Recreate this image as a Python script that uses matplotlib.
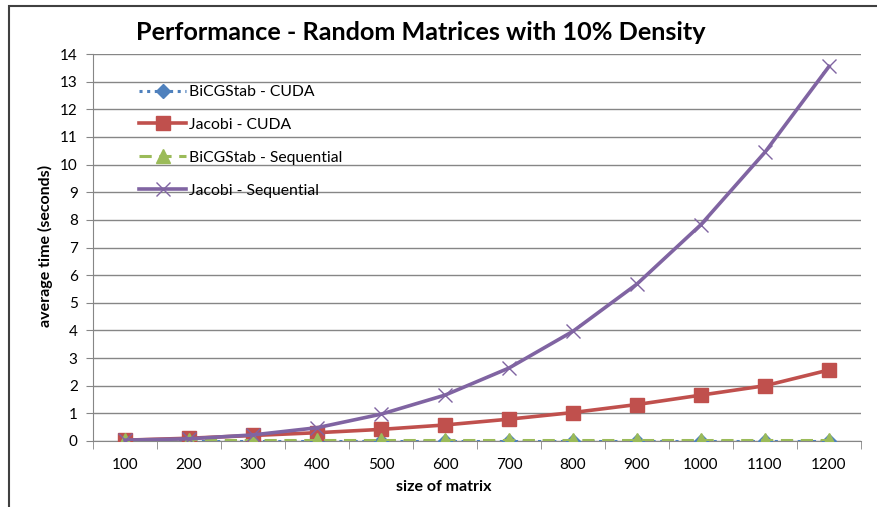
import matplotlib
matplotlib.use('Agg')
import matplotlib.pyplot as plt
from matplotlib.patches import Rectangle
import numpy as np

plt.rcParams['font.family'] = ['Lato', 'DejaVu Sans']

# data
sizes = ['100', '200', '300', '400', '500', '600', '700', '800', '900', '1000', '1100', '1200']
bicg_cuda = [0.01, 0.01, 0.01, 0.01, 0.01, 0.01, 0.01, 0.01, 0.01, 0.01, 0.01, 0.01]
jacobi_cuda = [0.03, 0.1, 0.2, 0.3, 0.42, 0.58, 0.79, 1.03, 1.32, 1.66, 2.0, 2.57]
bicg_seq = [0.02, 0.02, 0.02, 0.02, 0.02, 0.02, 0.02, 0.02, 0.02, 0.02, 0.02, 0.02]
jacobi_seq = [0.03, 0.08, 0.22, 0.48, 0.97, 1.66, 2.64, 3.97, 5.68, 7.83, 10.45, 13.55]

W, H = 877, 507
fig = plt.figure(figsize=(W / 100, H / 100), dpi=100)
ax = fig.add_axes([93 / W, 1 - 441 / H, (861 - 93) / W, (441 - 54) / H])

x = np.arange(len(sizes))
ax.plot(x, bicg_cuda, color='#4F81BD', ls=(0, (1, 1.5)), lw=2.2, marker='D', ms=7,
        label='BiCGStab - CUDA', zorder=3)
ax.plot(x, jacobi_cuda, color='#C0504D', lw=2.6, marker='s', ms=10,
        label='Jacobi - CUDA', zorder=4)
ax.plot(x, bicg_seq, color='#9BBB59', ls=(0, (4, 2.5)), lw=2.2, marker='^', ms=10,
        label='BiCGStab - Sequential', zorder=5)
ax.plot(x, jacobi_seq, color='#8064A2', lw=2.6, marker='x', ms=10, mew=1,
        label='Jacobi - Sequential', zorder=6)

ax.set_xlim(-0.5, len(sizes) - 0.5)
ax.set_ylim(0, 14)
ax.set_yticks(range(0, 15))
ax.set_xticks(x)
ax.set_xticklabels(sizes)
ax.set_xticks(np.arange(-0.5, len(sizes)), minor=True)
ax.tick_params(axis='x', which='major', length=0, pad=12, labelsize=11)
ax.tick_params(axis='x', which='minor', length=6, color='#868686', direction='out')
ax.tick_params(axis='y', length=5, color='#868686', labelsize=11, pad=6)
ax.grid(axis='y', color='#868686', lw=1)
ax.set_axisbelow(True)
for s in ['top', 'right']:
    ax.spines[s].set_visible(False)
for s in ['left', 'bottom']:
    ax.spines[s].set_color('#868686')

ax.set_xlabel('size of matrix', fontsize=11.5, fontweight='bold', va='center')
ax.xaxis.set_label_coords((444 - 93) / 768, (441 - 487) / 387)
ax.set_ylabel('average time (seconds)', fontsize=11.5, fontweight='bold', va='center')
ax.yaxis.set_label_coords((45 - 93) / 768, (441 - 246) / 387)
fig.text(421 / W, 1 - 33 / H, 'Performance - Random Matrices with 10% Density',
         ha='center', va='center', fontsize=18.2, fontweight='bold')

ax.legend(loc='upper left', bbox_to_anchor=(125 / W, 1 - 71 / H),
          bbox_transform=fig.transFigure, frameon=False, fontsize=11.3,
          handlelength=3.0, handletextpad=0.15, labelspacing=1.2)

fig.patches.append(Rectangle((9 / W, -0.1), 1.2, 1.1 - 6 / H, transform=fig.transFigure,
                             fill=False, edgecolor='#404040', lw=1.5))

fig.savefig('out.png', dpi=100)
